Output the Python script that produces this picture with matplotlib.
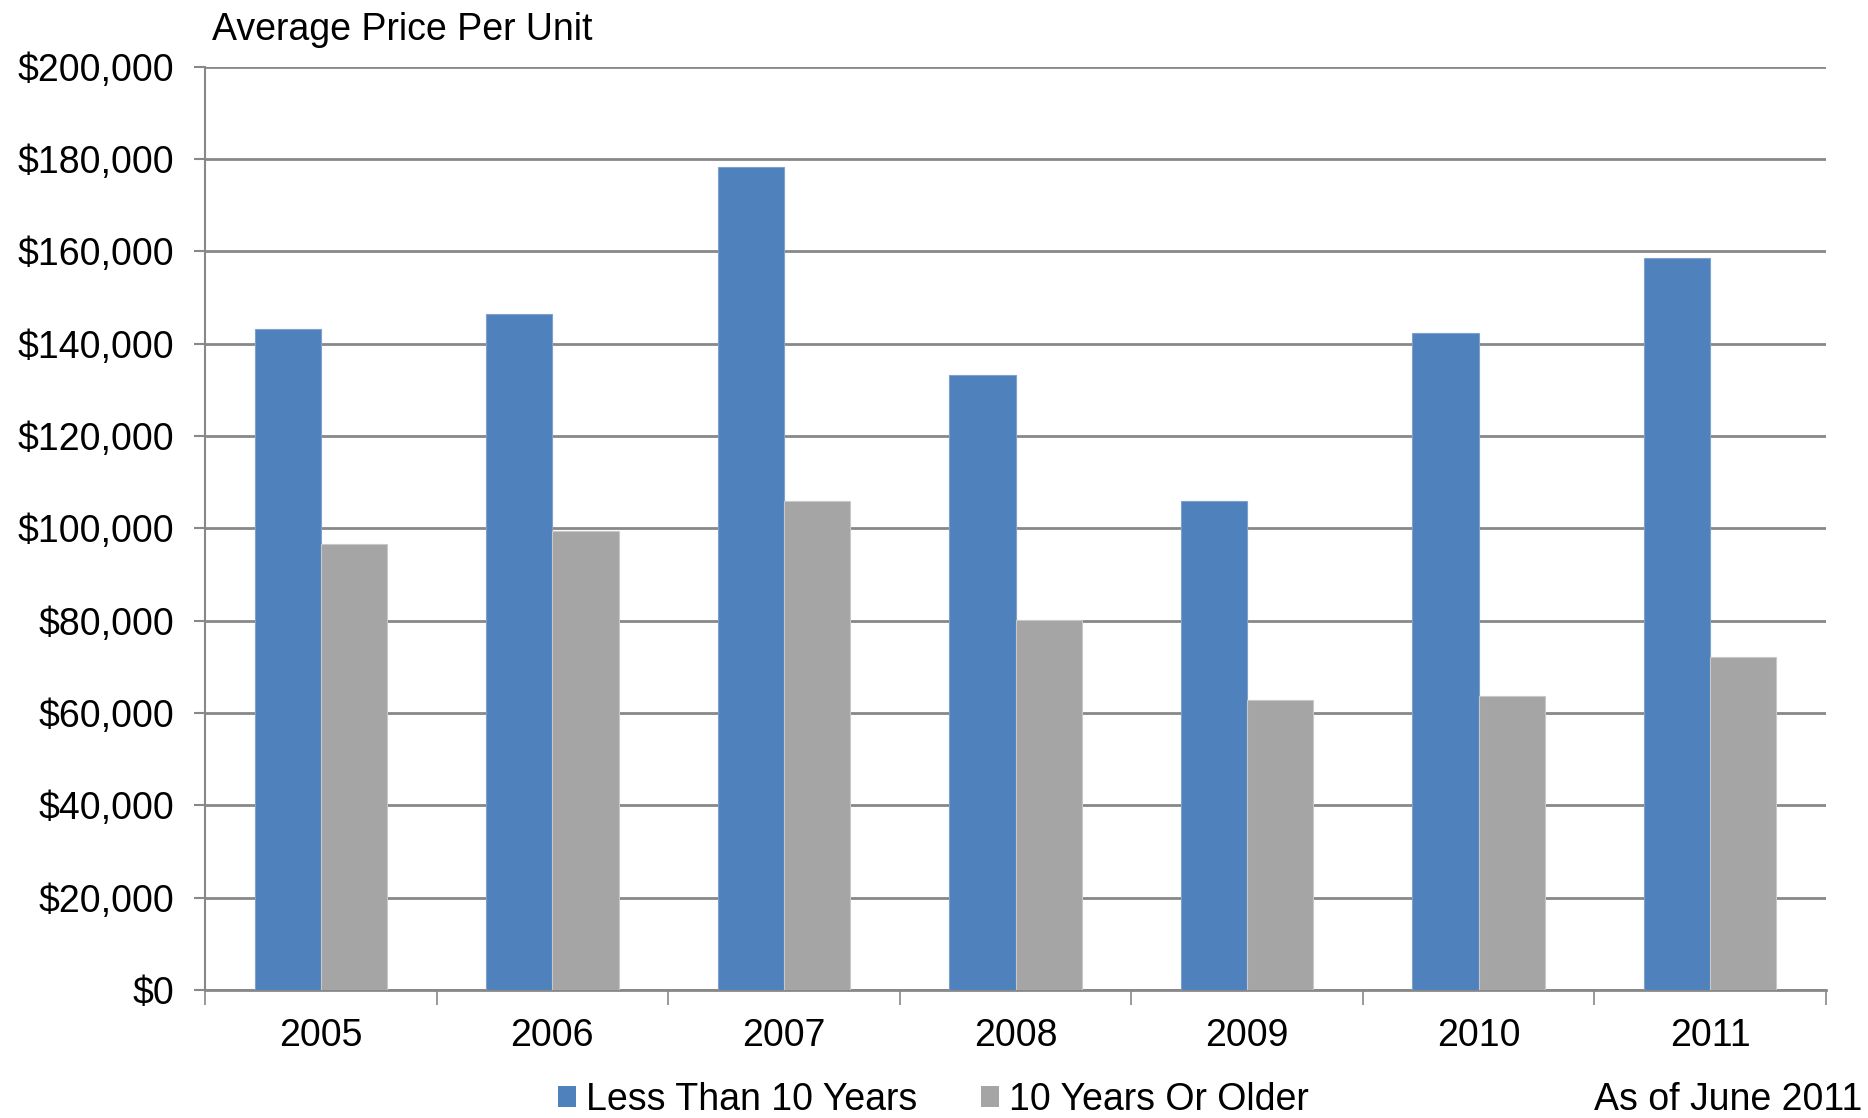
import matplotlib
matplotlib.use("Agg")
import matplotlib.pyplot as plt
from matplotlib.patches import Patch
from matplotlib.ticker import FuncFormatter, MultipleLocator
import numpy as np

years = ["2005", "2006", "2007", "2008", "2009", "2010", "2011"]
newer = [143200, 146400, 178300, 133200, 105900, 142400, 158600]
older = [96600, 99500, 105900, 80100, 62800, 63600, 72100]
series_names = ["Less Than 10 Years", "10 Years Or Older"]

BLUE = "#4F81BD"
GRAY = "#A5A5A5"
GRID = "#888888"

plt.rcParams["font.family"] = ["Liberation Sans", "DejaVu Sans"]
FS = 27

fig = plt.figure(figsize=(18.68, 11.18), dpi=100)
ax = fig.add_axes([205 / 1868, 1 - 990 / 1118, (1826 - 205) / 1868, (990 - 66.7) / 1118])

x = np.arange(len(years))
w = 1 / 3.5
ax.bar(x - w / 2, newer, width=w, color=BLUE, edgecolor="#7EA1CC", linewidth=0.8, zorder=3)
ax.bar(x + w / 2, older, width=w, color=GRAY, edgecolor="#C8C8C8", linewidth=0.8, zorder=3)

ax.set_xlim(-0.5, len(years) - 0.5)
ax.set_ylim(0, 200000)

ax.yaxis.set_major_locator(MultipleLocator(20000))
ax.yaxis.set_major_formatter(FuncFormatter(lambda v, p: f"${v:,.0f}"))
ax.grid(axis="y", color=GRID, linewidth=2, zorder=0)

ax.set_xticks(np.arange(len(years) + 1) - 0.5)
ax.set_xticklabels([])
ax.set_xticks(x, minor=True)
ax.set_xticklabels(years, minor=True)
ax.tick_params(axis="x", which="major", length=11, width=1.2, color=GRID, direction="out")
ax.tick_params(axis="x", which="minor", length=0, pad=20, labelsize=FS)
ax.tick_params(axis="y", length=8, width=1.5, color=GRID, pad=14, labelsize=FS)

for s in ("top", "right"):
    ax.spines[s].set_visible(False)
ax.spines["left"].set_color(GRID)
ax.spines["left"].set_linewidth(1.5)
ax.spines["bottom"].set_color(GRID)
ax.spines["bottom"].set_linewidth(2)

fig.text(212 / 1868, 1 - 30 / 1118, "Average Price Per Unit", fontsize=FS,
         ha="left", va="center")
fig.text(1862 / 1868, 1 - 1100 / 1118, "As of June 2011", fontsize=FS,
         ha="right", va="center")

handles = [Patch(facecolor=BLUE, edgecolor="none"), Patch(facecolor=GRAY, edgecolor="none")]
fig.legend(handles, series_names, loc="center", bbox_to_anchor=(933 / 1868, 1 - 1100 / 1118),
           ncol=2, frameon=False, fontsize=FS, handlelength=0.5, handleheight=0.5,
           handletextpad=0.25, columnspacing=1.7, borderaxespad=0)

fig.savefig("out.png", dpi=100)
